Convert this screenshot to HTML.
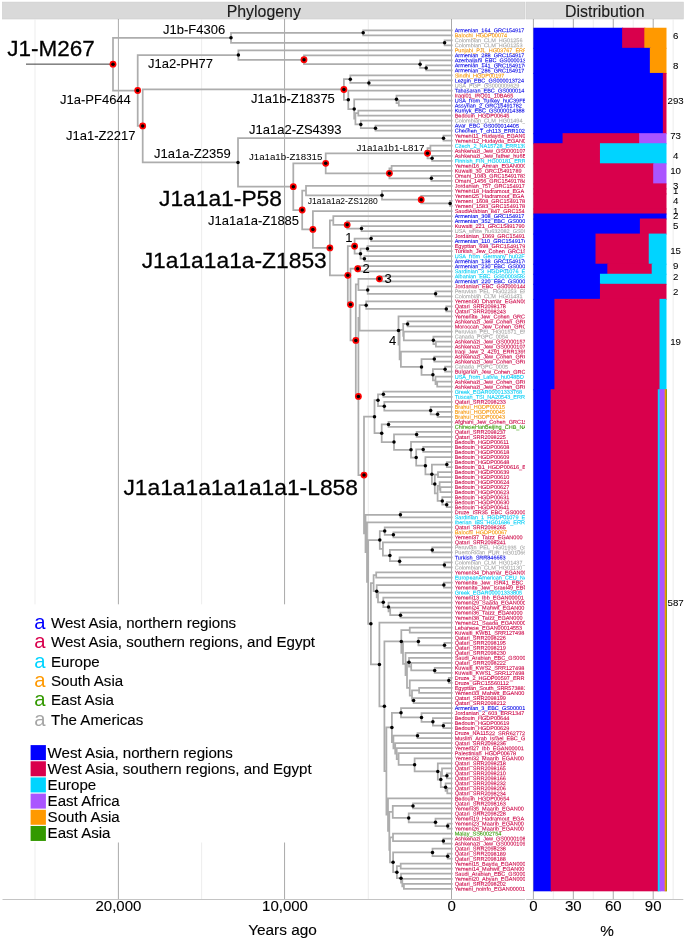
<!DOCTYPE html>
<html lang="en"><head><meta charset="utf-8"><title>J1-M267 phylogeny and distribution</title>
<style>html,body{margin:0;padding:0;background:#fff}body{width:685px;height:941px;overflow:hidden}svg{display:block;font-family:"Liberation Sans",Arial,Helvetica,sans-serif}.t text{font-size:5.53px;stroke-width:.08px}.B{fill:#0000e6;stroke:#0000e6}.R{fill:#cc0044;stroke:#cc0044}.C{fill:#00ccf5;stroke:#00ccf5}.O{fill:#f59300;stroke:#f59300}.G{fill:#339900;stroke:#339900}.A{fill:#a6a6a6;stroke:#a6a6a6}.n text{font-size:9.7px;text-anchor:middle;fill:#000;stroke:#000;stroke-width:.05px}text{stroke-width:.12px}.c text{fill:#000;stroke:#000}.ax text{font-size:15px;text-anchor:middle;fill:#000;stroke:#000}.lg text{font-size:15.1px;stroke:#000}</style></head><body>
<svg width="685" height="941" viewBox="0 0 685 941">
<defs><clipPath id="cp"><rect x="2.5" y="19" width="522.5" height="880"/></clipPath></defs>
<rect width="685" height="941" fill="#fff"/>
<rect x="2.5" y="2.1" width="522.5" height="16.9" fill="#d9d9d9" stroke="#ccc" stroke-width=".6"/>
<rect x="526.2" y="2.1" width="157.1" height="16.9" fill="#d9d9d9" stroke="#ccc" stroke-width=".6"/>
<g><text x="263.8" y="16.9" font-size="15.9" text-anchor="middle" fill="#1a1a1a" stroke="#1a1a1a">Phylogeny</text>
<text x="604.8" y="16.9" font-size="15.9" text-anchor="middle" fill="#1a1a1a" stroke="#1a1a1a">Distribution</text></g>
<line x1="35" y1="19" x2="35" y2="899" stroke="#ebebeb" stroke-width="0.9"/>
<line x1="201.6" y1="19" x2="201.6" y2="899" stroke="#ebebeb" stroke-width="0.9"/>
<line x1="368.3" y1="19" x2="368.3" y2="899" stroke="#ebebeb" stroke-width="0.9"/>
<line x1="118.4" y1="19" x2="118.4" y2="899" stroke="#858585" stroke-width="0.7"/>
<line x1="284.55" y1="19" x2="284.55" y2="899" stroke="#858585" stroke-width="0.7"/>
<line x1="451.5" y1="19" x2="451.5" y2="899" stroke="#858585" stroke-width="0.7"/>
<line x1="553.37" y1="19" x2="553.37" y2="899" stroke="#ebebeb" stroke-width="0.9"/>
<line x1="593.29" y1="19" x2="593.29" y2="899" stroke="#ebebeb" stroke-width="0.9"/>
<line x1="633.23" y1="19" x2="633.23" y2="899" stroke="#ebebeb" stroke-width="0.9"/>
<line x1="673.15" y1="19" x2="673.15" y2="899" stroke="#ebebeb" stroke-width="0.9"/>
<line x1="533.4" y1="19" x2="533.4" y2="899" stroke="#858585" stroke-width="0.7"/>
<line x1="573.33" y1="19" x2="573.33" y2="899" stroke="#858585" stroke-width="0.7"/>
<line x1="613.26" y1="19" x2="613.26" y2="899" stroke="#858585" stroke-width="0.7"/>
<line x1="653.19" y1="19" x2="653.19" y2="899" stroke="#858585" stroke-width="0.7"/>
<line x1="2.5" y1="899.5" x2="525" y2="899.5" stroke="#c4c4c4" stroke-width="1"/>
<line x1="526.2" y1="899.5" x2="683.3" y2="899.5" stroke="#c4c4c4" stroke-width="1"/>
<path d="M363.2 30.25H451.7M363.2 35.27H451.7M363.2 30.25V35.27M231 32.76H363.2M444.6 40.29H451.7M444.6 45.31H451.7M444.6 40.29V45.31M231 42.8H444.6M231 32.76V42.8M113 37.78H231M238.4 50.33H451.7M304 55.35H451.7M420.1 60.37H451.7M426.2 65.4H451.7M426.2 70.42H451.7M426.2 65.4V70.42M420.1 67.91H426.2M420.1 60.37V67.91M304 64.14H420.1M304 55.35V64.14M238.4 59.75H304M238.4 50.33V59.75M137.7 55.04H238.4M350.3 75.44H451.7M368.9 80.46H451.7M368.9 85.48H451.7M368.9 80.46V85.48M350.3 82.97H368.9M350.3 75.44V82.97M343.9 79.2H350.3M348.3 90.5H451.7M396.5 95.52H451.7M398.8 100.54H451.7M398.8 105.56H451.7M398.8 100.54V105.56M396.5 103.05H398.8M396.5 95.52V103.05M354.2 99.29H396.5M358.3 110.58H451.7M358.3 115.6H451.7M358.3 110.58V115.6M355.4 113.09H358.3M360.8 120.62H451.7M375.5 125.64H451.7M375.5 130.67H451.7M375.5 125.64V130.67M360.8 128.15H375.5M360.8 120.62V128.15M355.4 124.39H360.8M355.4 113.09V124.39M354.2 118.74H355.4M354.2 99.29V118.74M348.3 109.01H354.2M348.3 90.5V109.01M343.9 99.76H348.3M343.9 79.2V99.76M142.7 89.48H343.9M443.5 135.69H451.7M443.5 140.71H451.7M443.5 135.69V140.71M238 138.2H443.5M430.4 145.73H451.7M430.4 150.75H451.7M430.4 145.73V150.75M427.5 148.24H430.4M432.1 155.77H451.7M432.1 160.79H451.7M432.1 155.77V160.79M427.5 158.28H432.1M427.5 148.24V158.28M325.7 153.26H427.5M391.6 165.81H451.7M391.6 170.83H451.7M391.6 165.81V170.83M389.4 168.32H391.6M431.4 175.85H451.7M431.4 180.87H451.7M431.4 175.85V180.87M389.4 178.36H431.4M389.4 168.32V178.36M325.7 173.34H389.4M325.7 153.26V173.34M293.3 163.3H325.7M306 185.89H451.7M382 190.91H451.7M421.2 195.94H451.7M450.1 200.96H451.7M450.1 205.98H451.7M450.1 200.96V205.98M421.2 203.47H450.1M421.2 195.94V203.47M382 199.7H421.2M382 190.91V199.7M306 195.31H382M306 185.89V195.31M302.2 190.6H306M312.9 211H451.7M333.3 216.02H451.7M347.2 221.04H451.7M361.5 226.06H451.7M361.5 231.08H451.7M361.5 226.06V231.08M347.2 228.57H361.5M347.2 221.04V228.57M333.3 224.8H347.2M333.3 216.02V224.8M329.9 220.41H333.3M371.1 236.1H451.7M371.1 241.12H451.7M371.1 236.1V241.12M354.6 238.61H371.1M367.5 246.14H451.7M367.5 251.16H451.7M367.5 246.14V251.16M360.5 248.65H367.5M364.4 256.18H451.7M364.4 261.2H451.7M364.4 256.18V261.2M360.5 258.69H364.4M360.5 248.65V258.69M354.6 253.67H360.5M354.6 238.61V253.67M347.8 246.14H354.6M357.7 266.23H451.7M357.7 271.25H451.7M357.7 266.23V271.25M350.5 268.74H357.7M379.4 276.27H451.7M379.4 281.29H451.7M379.4 276.27V281.29M358.4 278.78H379.4M367.7 286.31H451.7M435.6 291.33H451.7M435.6 296.35H451.7M435.6 291.33V296.35M367.7 293.84H435.6M367.7 286.31V293.84M358.4 290.07H367.7M358.4 278.78V290.07M355.8 284.43H358.4M366.2 301.37H451.7M446.3 306.39H451.7M446.3 311.41H451.7M446.3 306.39V311.41M366.2 308.9H446.3M366.2 301.37V308.9M359.6 305.14H366.2M398.5 316.43H451.7M407.6 321.45H451.7M407.6 326.47H451.7M407.6 321.45V326.47M403.2 323.96H407.6M403.8 331.5H451.7M433.4 336.52H451.7M435.9 341.54H451.7M435.9 346.56H451.7M435.9 341.54V346.56M433.4 344.05H435.9M433.4 336.52V344.05M403.8 340.28H433.4M403.8 331.5V340.28M403.2 335.89H403.8M403.2 323.96V335.89M399.6 329.93H403.2M400.9 351.58H451.7M434.3 356.6H451.7M434.3 361.62H451.7M434.3 356.6V361.62M421.5 359.11H434.3M445.1 366.64H451.7M445.1 371.66H451.7M445.1 366.64V371.66M432.9 369.15H445.1M435.5 376.68H451.7M437.2 381.7H451.7M437.2 386.72H451.7M437.2 381.7V386.72M435.5 384.21H437.2M435.5 376.68V384.21M432.9 380.45H435.5M432.9 369.15V380.45M421.5 374.8H432.9M421.5 359.11V374.8M400.9 366.95H421.5M400.9 351.58V366.95M399.6 359.27H400.9M399.6 329.93V359.27M398.5 344.6H399.6M398.5 316.43V344.6M359.6 330.51H398.5M359.6 305.14V330.51M358.4 317.83H359.6M383.4 391.74H451.7M383.4 396.77H451.7M383.4 391.74V396.77M378 394.26H383.4M384.3 401.79H451.7M430.7 406.81H451.7M437.6 411.83H451.7M437.6 416.85H451.7M437.6 411.83V416.85M430.7 414.34H437.6M430.7 406.81V414.34M384.3 410.57H430.7M384.3 401.79V410.57M378 406.18H384.3M378 394.26V406.18M374.5 400.22H378M388.5 421.87H451.7M388.5 426.89H451.7M388.5 421.87V426.89M381.7 424.38H388.5M416.6 431.91H451.7M416.6 436.93H451.7M416.6 431.91V436.93M394 434.42H416.6M411 441.95H451.7M423.2 446.97H451.7M423.2 451.99H451.7M423.2 446.97V451.99M416.2 449.48H423.2M425.4 457.01H451.7M446.8 462.04H451.7M446.8 467.06H451.7M446.8 462.04V467.06M431.9 464.55H446.8M438 472.08H451.7M438 477.1H451.7M438 472.08V477.1M434.8 474.59H438M439.6 482.12H451.7M440.4 487.14H451.7M440.4 492.16H451.7M440.4 487.14V492.16M439.6 489.65H440.4M439.6 482.12V489.65M437.6 485.88H439.6M442.3 497.18H451.7M446.7 502.2H451.7M446.7 507.22H451.7M446.7 502.2V507.22M442.3 504.71H446.7M442.3 497.18V504.71M437.6 500.95H442.3M437.6 485.88V500.95M434.8 493.42H437.6M434.8 474.59V493.42M431.9 484H434.8M431.9 464.55V484M425.4 474.27H431.9M425.4 457.01V474.27M416.2 465.64H425.4M416.2 449.48V465.64M411 457.56H416.2M411 441.95V457.56M394 449.76H411M394 434.42V449.76M381.7 442.09H394M381.7 424.38V442.09M374.5 433.23H381.7M374.5 400.22V433.23M364 416.73H374.5M400.4 512.24H451.7M400.4 517.26H451.7M400.4 512.24V517.26M365.5 514.75H400.4M367 522.28H451.7M384.7 527.31H451.7M393.4 532.33H451.7M393.4 537.35H451.7M393.4 532.33V537.35M384.7 534.84H393.4M384.7 527.31V534.84M379.8 531.07H384.7M382.9 542.37H451.7M432.3 547.39H451.7M432.3 552.41H451.7M432.3 547.39V552.41M389.9 549.9H432.3M399.6 557.43H451.7M444.4 562.45H451.7M444.4 567.47H451.7M444.4 562.45V567.47M399.6 564.96H444.4M399.6 557.43V564.96M389.9 561.2H399.6M389.9 549.9V561.2M382.9 555.55H389.9M382.9 542.37V555.55M379.8 548.96H382.9M379.8 531.07V548.96M368.2 540.01H379.8M376.2 572.49H451.7M376.2 577.51H451.7M376.2 572.49V577.51M373.6 575H376.2M443.9 582.53H451.7M443.9 587.55H451.7M443.9 582.53V587.55M376.7 585.04H443.9M378 592.58H451.7M383.3 597.6H451.7M388.5 602.62H451.7M390.2 607.64H451.7M400.5 612.66H451.7M400.5 617.68H451.7M400.5 612.66V617.68M390.2 615.17H400.5M390.2 607.64V615.17M388.5 611.4H390.2M388.5 602.62V611.4M383.3 607.01H388.5M383.3 597.6V607.01M378 602.3H383.3M378 592.58V602.3M376.7 597.44H378M376.7 585.04V597.44M373.6 591.24H376.7M373.6 575V591.24M370.9 583.12H373.6M379.4 622.7H451.7M409.75 627.72H451.7M409.75 632.74H451.7M409.75 627.72V632.74M401.3 630.23H409.75M418.4 637.76H451.7M444.5 642.78H451.7M444.5 647.8H451.7M444.5 642.78V647.8M418.4 645.29H444.5M418.4 637.76V645.29M403 641.53H418.4M405.5 652.82H451.7M409 657.85H451.7M411.2 662.87H451.7M434.7 667.89H451.7M434.7 672.91H451.7M434.7 667.89V672.91M411.2 670.4H434.7M411.2 662.87V670.4M409 666.63H411.2M409 657.85V666.63M407 662.24H409M448.8 677.93H451.7M448.8 682.95H451.7M448.8 677.93V682.95M409.75 680.44H448.8M419.1 687.97H451.7M419.1 692.99H451.7M419.1 687.97V692.99M412 690.48H419.1M413.6 698.01H451.7M413.6 703.03H451.7M413.6 698.01V703.03M412 700.52H413.6M412 690.48V700.52M409.75 695.5H412M409.75 680.44V695.5M407 687.97H409.75M407 662.24V687.97M405.5 675.1H407M405.5 652.82V675.1M403 663.96H405.5M403 641.53V663.96M401.3 652.75H403M401.3 630.23V652.75M384.4 641.49H401.3M401 708.05H451.7M421.5 713.07H451.7M432.9 718.09H451.7M443.4 723.11H451.7M443.4 728.14H451.7M443.4 723.11V728.14M432.9 725.63H443.4M432.9 718.09V725.63M421.5 721.86H432.9M421.5 713.07V721.86M401 717.47H421.5M401 708.05V717.47M391.9 712.76H401M417.5 733.16H451.7M417.5 738.18H451.7M417.5 733.16V738.18M393.4 735.67H417.5M395.2 743.2H451.7M396.7 748.22H451.7M398.6 753.24H451.7M414.6 758.26H451.7M437.8 763.28H451.7M442 768.3H451.7M446.9 773.32H451.7M446.9 778.34H451.7M446.9 773.32V778.34M442 775.83H446.9M442 768.3V775.83M440.8 772.07H442M445.6 783.36H451.7M447.3 788.38H451.7M447.3 793.41H451.7M447.3 788.38V793.41M445.6 790.9H447.3M445.6 783.36V790.9M440.8 787.13H445.6M440.8 772.07V787.13M437.8 779.6H440.8M437.8 763.28V779.6M414.6 771.44H437.8M414.6 758.26V771.44M398.6 764.85H414.6M398.6 753.24V764.85M396.7 759.04H398.6M396.7 748.22V759.04M395.2 753.63H396.7M395.2 743.2V753.63M393.4 748.41H395.2M393.4 735.67V748.41M391.9 742.04H393.4M391.9 712.76V742.04M386.4 727.4H391.9M388 798.43H451.7M413 803.45H451.7M413 808.47H451.7M413 803.45V808.47M392.75 805.96H413M408.7 813.49H451.7M435.5 818.51H451.7M447.7 823.53H451.7M447.7 828.55H451.7M447.7 823.53V828.55M435.5 826.04H447.7M435.5 818.51V826.04M408.7 822.27H435.5M408.7 813.49V822.27M392.75 817.88H408.7M392.75 805.96V817.88M389.3 811.92H392.75M393 833.57H451.7M443.4 838.59H451.7M443.4 843.61H451.7M443.4 838.59V843.61M393 841.1H443.4M393 833.57V841.1M390 837.34H393M432.5 848.63H451.7M447.7 853.65H451.7M447.7 858.68H451.7M447.7 853.65V858.68M432.5 856.17H447.7M432.5 848.63V856.17M393.1 852.4H432.5M400.7 863.7H451.7M400.7 868.72H451.7M400.7 863.7V868.72M396.9 866.21H400.7M401 873.74H451.7M402.3 878.76H451.7M403.9 883.78H451.7M403.9 888.8H451.7M403.9 883.78V888.8M402.3 886.29H403.9M402.3 878.76V886.29M401 882.52H402.3M401 873.74V882.52M396.9 878.13H401M396.9 866.21V878.13M393.1 872.17H396.9M393.1 852.4V872.17M390 862.28H393.1M390 837.34V862.28M389.3 849.81H390M389.3 811.92V849.81M388 830.87H389.3M388 798.43V830.87M386.4 814.65H388M386.4 727.4V814.65M384.4 771.02H386.4M384.4 641.49V771.02M379.4 706.26H384.4M379.4 622.7V706.26M370.9 664.48H379.4M370.9 583.12V664.48M368.2 623.8H370.9M368.2 540.01V623.8M367 581.91H368.2M367 522.28V581.91M365.5 552.1H367M365.5 514.75V552.1M364 533.42H365.5M364 416.73V533.42M358.4 475.08H364M358.4 317.83V475.08M355.8 396.45H358.4M355.8 284.43V396.45M350.5 340.44H355.8M350.5 268.74V340.44M347.8 304.59H350.5M347.8 246.14V304.59M329.9 275.36H347.8M329.9 220.41V275.36M312.9 247.89H329.9M312.9 211V247.89M302.2 229.44H312.9M302.2 190.6V229.44M293.3 210.02H302.2M293.3 163.3V210.02M238 186.66H293.3M238 138.2V186.66M142.7 162.43H238M142.7 89.48V162.43M137.7 125.95H142.7M137.7 55.04V125.95M113 90.5H137.7M113 37.78V90.5" fill="none" stroke="#adadad" stroke-width="1.75" stroke-linecap="square"/>
<line x1="26" y1="64.14" x2="113" y2="64.14" stroke="#1a1a1a" stroke-width="0.85"/>
<g fill="#f00"><circle cx="304" cy="59.75" r="3.4"/><circle cx="343.9" cy="89.48" r="3.4"/><circle cx="427.5" cy="153.26" r="3.4"/><circle cx="389.4" cy="173.34" r="3.4"/><circle cx="325.7" cy="163.3" r="3.4"/><circle cx="421.2" cy="199.7" r="3.4"/><circle cx="347.2" cy="224.8" r="3.4"/><circle cx="354.6" cy="246.14" r="3.4"/><circle cx="357.7" cy="268.74" r="3.4"/><circle cx="379.4" cy="278.78" r="3.4"/><circle cx="364" cy="475.08" r="3.4"/><circle cx="358.4" cy="396.45" r="3.4"/><circle cx="355.8" cy="340.44" r="3.4"/><circle cx="350.5" cy="304.59" r="3.4"/><circle cx="347.8" cy="275.36" r="3.4"/><circle cx="329.9" cy="247.89" r="3.4"/><circle cx="312.9" cy="229.44" r="3.4"/><circle cx="302.2" cy="210.02" r="3.4"/><circle cx="293.3" cy="186.66" r="3.4"/><circle cx="142.7" cy="125.95" r="3.4"/><circle cx="137.7" cy="90.5" r="3.4"/><circle cx="113" cy="64.14" r="3.4"/></g>
<g fill="#000"><circle cx="363.2" cy="32.76" r="1.75"/><circle cx="444.6" cy="42.8" r="1.75"/><circle cx="231" cy="37.78" r="1.75"/><circle cx="426.2" cy="67.91" r="1.75"/><circle cx="420.1" cy="64.14" r="1.75"/><circle cx="304" cy="59.75" r="1.75"/><circle cx="238.4" cy="55.04" r="1.75"/><circle cx="368.9" cy="82.97" r="1.75"/><circle cx="350.3" cy="79.2" r="1.75"/><circle cx="396.5" cy="99.29" r="1.75"/><circle cx="375.5" cy="128.15" r="1.75"/><circle cx="360.8" cy="124.39" r="1.75"/><circle cx="354.2" cy="109.01" r="1.75"/><circle cx="348.3" cy="99.76" r="1.75"/><circle cx="343.9" cy="89.48" r="1.75"/><circle cx="443.5" cy="138.2" r="1.75"/><circle cx="432.1" cy="158.28" r="1.75"/><circle cx="427.5" cy="153.26" r="1.75"/><circle cx="431.4" cy="178.36" r="1.75"/><circle cx="389.4" cy="173.34" r="1.75"/><circle cx="325.7" cy="163.3" r="1.75"/><circle cx="450.1" cy="203.47" r="1.75"/><circle cx="421.2" cy="199.7" r="1.75"/><circle cx="382" cy="195.31" r="1.75"/><circle cx="361.5" cy="228.57" r="1.75"/><circle cx="347.2" cy="224.8" r="1.75"/><circle cx="371.1" cy="238.61" r="1.75"/><circle cx="367.5" cy="248.65" r="1.75"/><circle cx="364.4" cy="258.69" r="1.75"/><circle cx="360.5" cy="253.67" r="1.75"/><circle cx="354.6" cy="246.14" r="1.75"/><circle cx="357.7" cy="268.74" r="1.75"/><circle cx="379.4" cy="278.78" r="1.75"/><circle cx="435.6" cy="293.84" r="1.75"/><circle cx="367.7" cy="290.07" r="1.75"/><circle cx="446.3" cy="308.9" r="1.75"/><circle cx="366.2" cy="305.14" r="1.75"/><circle cx="407.6" cy="323.96" r="1.75"/><circle cx="433.4" cy="340.28" r="1.75"/><circle cx="434.3" cy="359.11" r="1.75"/><circle cx="445.1" cy="369.15" r="1.75"/><circle cx="432.9" cy="374.8" r="1.75"/><circle cx="421.5" cy="366.95" r="1.75"/><circle cx="398.5" cy="330.51" r="1.75"/><circle cx="383.4" cy="394.26" r="1.75"/><circle cx="437.6" cy="414.34" r="1.75"/><circle cx="430.7" cy="410.57" r="1.75"/><circle cx="384.3" cy="406.18" r="1.75"/><circle cx="378" cy="400.22" r="1.75"/><circle cx="388.5" cy="424.38" r="1.75"/><circle cx="416.6" cy="434.42" r="1.75"/><circle cx="423.2" cy="449.48" r="1.75"/><circle cx="446.8" cy="464.55" r="1.75"/><circle cx="446.7" cy="504.71" r="1.75"/><circle cx="442.3" cy="500.95" r="1.75"/><circle cx="434.8" cy="484" r="1.75"/><circle cx="431.9" cy="474.27" r="1.75"/><circle cx="425.4" cy="465.64" r="1.75"/><circle cx="416.2" cy="457.56" r="1.75"/><circle cx="411" cy="449.76" r="1.75"/><circle cx="394" cy="442.09" r="1.75"/><circle cx="381.7" cy="433.23" r="1.75"/><circle cx="374.5" cy="416.73" r="1.75"/><circle cx="400.4" cy="514.75" r="1.75"/><circle cx="393.4" cy="534.84" r="1.75"/><circle cx="384.7" cy="531.07" r="1.75"/><circle cx="432.3" cy="549.9" r="1.75"/><circle cx="444.4" cy="564.96" r="1.75"/><circle cx="399.6" cy="561.2" r="1.75"/><circle cx="389.9" cy="555.55" r="1.75"/><circle cx="379.8" cy="540.01" r="1.75"/><circle cx="443.9" cy="585.04" r="1.75"/><circle cx="400.5" cy="615.17" r="1.75"/><circle cx="388.5" cy="607.01" r="1.75"/><circle cx="383.3" cy="602.3" r="1.75"/><circle cx="376.7" cy="591.24" r="1.75"/><circle cx="444.5" cy="645.29" r="1.75"/><circle cx="418.4" cy="641.53" r="1.75"/><circle cx="434.7" cy="670.4" r="1.75"/><circle cx="409" cy="662.24" r="1.75"/><circle cx="448.8" cy="680.44" r="1.75"/><circle cx="413.6" cy="700.52" r="1.75"/><circle cx="401.3" cy="641.49" r="1.75"/><circle cx="443.4" cy="725.63" r="1.75"/><circle cx="432.9" cy="721.86" r="1.75"/><circle cx="421.5" cy="717.47" r="1.75"/><circle cx="401" cy="712.76" r="1.75"/><circle cx="417.5" cy="735.67" r="1.75"/><circle cx="446.9" cy="775.83" r="1.75"/><circle cx="445.6" cy="787.13" r="1.75"/><circle cx="440.8" cy="779.6" r="1.75"/><circle cx="437.8" cy="771.44" r="1.75"/><circle cx="414.6" cy="764.85" r="1.75"/><circle cx="391.9" cy="727.4" r="1.75"/><circle cx="413" cy="805.96" r="1.75"/><circle cx="447.7" cy="826.04" r="1.75"/><circle cx="435.5" cy="822.27" r="1.75"/><circle cx="408.7" cy="817.88" r="1.75"/><circle cx="443.4" cy="841.1" r="1.75"/><circle cx="447.7" cy="856.17" r="1.75"/><circle cx="432.5" cy="852.4" r="1.75"/><circle cx="401" cy="878.13" r="1.75"/><circle cx="396.9" cy="872.17" r="1.75"/><circle cx="393.1" cy="862.28" r="1.75"/><circle cx="384.4" cy="706.26" r="1.75"/><circle cx="379.4" cy="664.48" r="1.75"/><circle cx="370.9" cy="623.8" r="1.75"/><circle cx="364" cy="475.08" r="1.75"/><circle cx="358.4" cy="396.45" r="1.75"/><circle cx="355.8" cy="340.44" r="1.75"/><circle cx="350.5" cy="304.59" r="1.75"/><circle cx="347.8" cy="275.36" r="1.75"/><circle cx="329.9" cy="247.89" r="1.75"/><circle cx="312.9" cy="229.44" r="1.75"/><circle cx="302.2" cy="210.02" r="1.75"/><circle cx="293.3" cy="186.66" r="1.75"/><circle cx="238" cy="162.43" r="1.75"/><circle cx="142.7" cy="125.95" r="1.75"/><circle cx="137.7" cy="90.5" r="1.75"/><circle cx="113" cy="64.14" r="1.75"/></g>
<g class="t" clip-path="url(#cp)"><g transform="matrix(1 0.0009 0 1 0 0)">
<text x="454.7" y="31.79" class="B">Armenian_164_GRC154917</text>
<text x="454.7" y="36.81" class="O">Balochi_HGDP00074</text>
<text x="454.7" y="41.83" class="A">Colombian_CLM_HG01256</text>
<text x="454.7" y="46.85" class="A">Colombian_CLM_HG01253</text>
<text x="454.7" y="51.87" class="O">Punjabi_PJL_HG03767_ERR</text>
<text x="454.7" y="56.89" class="B">Armenian_288_GRC154917</text>
<text x="454.7" y="61.92" class="B">Azerbaijani_EBC_GS000013</text>
<text x="454.7" y="66.94" class="B">Armenian_141_GRC1549176</text>
<text x="454.7" y="71.96" class="B">Armenian_286_GRC154917</text>
<text x="454.7" y="76.98" class="O">Sindhi_HGDP00197</text>
<text x="454.7" y="82" class="B">Lezgin_EBC_GS000013724</text>
<text x="454.7" y="87.02" class="A">USA_PGP_GS000009629</text>
<text x="454.7" y="92.04" class="B">Tabasaran_EBC_GS000014</text>
<text x="454.7" y="97.06" class="R">Iraqi01_IRQ01_10BA65</text>
<text x="454.7" y="102.08" class="B">USA_from_Turkey_huC39FE</text>
<text x="454.7" y="107.1" class="B">Assyrian_2_GRC15491782</text>
<text x="454.7" y="112.12" class="B">Kumyk_EBC_GS000014388</text>
<text x="454.7" y="117.14" class="R">Bedouin_HGDP00645</text>
<text x="454.7" y="122.16" class="A">Colombian_CLM_HG01494_</text>
<text x="454.7" y="127.19" class="B">Avar_EBC_GS000014405</text>
<text x="454.7" y="132.21" class="B">Chechen_T_ch113_ERR102</text>
<text x="454.7" y="137.23" class="R">Yemeni11_Hudayda_EGAN0</text>
<text x="454.7" y="142.25" class="R">Yemeni12_Hudayda_EGAN0</text>
<text x="454.7" y="147.27" class="C">Czech_2_NA15728_ERR139</text>
<text x="454.7" y="152.29" class="R">Ashkenazi_Jew_GS0000107</text>
<text x="454.7" y="157.31" class="R">Ashkenazi_Jew_father_hu6E</text>
<text x="454.7" y="162.33" class="C">Finnish_FIN_HG00181_ERR</text>
<text x="454.7" y="167.35" class="R">Yemeni16_Amran_EGAN000</text>
<text x="454.7" y="172.37" class="R">Kuwaiti_30_GRC15491789</text>
<text x="454.7" y="177.39" class="R">Omani_1083_GRC15491783</text>
<text x="454.7" y="182.41" class="R">Omani_1456_GRC15491784</text>
<text x="454.7" y="187.43" class="R">Jordanian_757_GRC154917</text>
<text x="454.7" y="192.46" class="R">Yemeni18_Hadramout_EGA</text>
<text x="454.7" y="197.48" class="R">Yemeni25_Hadramout_EGA</text>
<text x="454.7" y="202.5" class="R">Yemeni_1608_GRC1549178</text>
<text x="454.7" y="207.52" class="R">Yemeni_1583_GRC1549178</text>
<text x="454.7" y="212.54" class="R">SaudiArabian_847_GRC154</text>
<text x="454.7" y="217.56" class="B">Armenian_308_GRC154917</text>
<text x="454.7" y="222.58" class="B">Armenian_352_EBC_GS000</text>
<text x="454.7" y="227.6" class="R">Kuwaiti_221_GRC15491790</text>
<text x="454.7" y="232.62" class="A">USA_white_hu632082_GS00</text>
<text x="454.7" y="237.64" class="R">Jordanian_1069_GRC15491</text>
<text x="454.7" y="242.66" class="B">Armenian_110_GRC1549176</text>
<text x="454.7" y="247.68" class="R">Egyptian_698_GRC1549179</text>
<text x="454.7" y="252.7" class="R">Turkish_Jew_Cohen_GRC15</text>
<text x="454.7" y="257.72" class="C">USA_from_Germany_hu02F</text>
<text x="454.7" y="262.75" class="B">Armenian_138_GRC1549176</text>
<text x="454.7" y="267.77" class="B">Armenian_230_EBC_GS000</text>
<text x="454.7" y="272.79" class="C">Sardinian_3_HGDP01076_E</text>
<text x="454.7" y="277.81" class="C">Albanian_EBC_GS00003583</text>
<text x="454.7" y="282.83" class="B">Armenian_220_EBC_GS000</text>
<text x="454.7" y="287.85" class="R">Jordanian_EBC_GS0000144</text>
<text x="454.7" y="292.87" class="A">Peruvian_PEL_HG02253_ER</text>
<text x="454.7" y="297.89" class="A">Colombian_CLM_HG01431</text>
<text x="454.7" y="302.91" class="R">Yemeni30_Dhamar_EGAN00</text>
<text x="454.7" y="307.93" class="R">Qatari_SRR2098178</text>
<text x="454.7" y="312.95" class="R">Qatari_SRR2098243</text>
<text x="454.7" y="317.97" class="R">Yemenite_Jew_Cohen_GRC</text>
<text x="454.7" y="322.99" class="R">Ashkenazi_Jew_Cohen_GRC</text>
<text x="454.7" y="328.02" class="R">Moroccan_Jew_Cohen_GRC</text>
<text x="454.7" y="333.04" class="A">Peruvian_PEL_HG01571_ER</text>
<text x="454.7" y="338.06" class="A">Canada_PGPC_0054</text>
<text x="454.7" y="343.08" class="R">Ashkenazi_Jew_GS0000157</text>
<text x="454.7" y="348.1" class="R">Ashkenazi_Jew_GS0000107</text>
<text x="454.7" y="353.12" class="R">Iraqi_Jew_2_4291_ERR1395</text>
<text x="454.7" y="358.14" class="R">Ashkenazi_Jew_Cohen_GRC</text>
<text x="454.7" y="363.16" class="R">Ashkenazi_Jew_Cohen_GRC</text>
<text x="454.7" y="368.18" class="A">Canada_PGPC_0005</text>
<text x="454.7" y="373.2" class="R">Bulgarian_Jew_Cohen_GRC</text>
<text x="454.7" y="378.22" class="C">USA_from_Latvia_hu048BD</text>
<text x="454.7" y="383.24" class="R">Ashkenazi_Jew_Cohen_GRC</text>
<text x="454.7" y="388.26" class="R">Ashkenazi_Jew_Cohen_GRC</text>
<text x="454.7" y="393.29" class="C">Greek_EGAR00001333768</text>
<text x="454.7" y="398.31" class="C">Tuscan_TSI_NA20543_ERR</text>
<text x="454.7" y="403.33" class="R">Qatari_SRR2098233</text>
<text x="454.7" y="408.35" class="O">Brahui_HGDP00015</text>
<text x="454.7" y="413.37" class="O">Brahui_HGDP00045</text>
<text x="454.7" y="418.39" class="O">Brahui_HGDP00043</text>
<text x="454.7" y="423.41" class="R">Afghani_Jew_Cohen_GRC15</text>
<text x="454.7" y="428.43" class="G">ChineseHanBeijing_CHB_NA</text>
<text x="454.7" y="433.45" class="R">Qatari_SRR2098237</text>
<text x="454.7" y="438.47" class="R">Qatari_SRR2098225</text>
<text x="454.7" y="443.49" class="R">Bedouin_HGDP00611</text>
<text x="454.7" y="448.51" class="R">Bedouin_HGDP00608</text>
<text x="454.7" y="453.53" class="R">Bedouin_HGDP00618</text>
<text x="454.7" y="458.56" class="R">Bedouin_HGDP00609</text>
<text x="454.7" y="463.58" class="R">Bedouin_HGDP00648</text>
<text x="454.7" y="468.6" class="R">Bedouin_B1_HGDP00616_E</text>
<text x="454.7" y="473.62" class="R">Bedouin_HGDP00639</text>
<text x="454.7" y="478.64" class="R">Bedouin_HGDP00610</text>
<text x="454.7" y="483.66" class="R">Bedouin_HGDP00624</text>
<text x="454.7" y="488.68" class="R">Bedouin_HGDP00627</text>
<text x="454.7" y="493.7" class="R">Bedouin_HGDP00623</text>
<text x="454.7" y="498.72" class="R">Bedouin_HGDP00631</text>
<text x="454.7" y="503.74" class="R">Bedouin_HGDP00630</text>
<text x="454.7" y="508.76" class="R">Bedouin_HGDP00641</text>
<text x="454.7" y="513.78" class="R">Druze_ISR35_EBC_GS0000</text>
<text x="454.7" y="518.8" class="C">Sardinian_1_HGDP01079_E</text>
<text x="454.7" y="523.83" class="C">Iberian_IBS_HG01686_ERR</text>
<text x="454.7" y="528.85" class="R">Qatari_SRR2098265</text>
<text x="454.7" y="533.87" class="O">Balochi_HGDP00067</text>
<text x="454.7" y="538.89" class="R">Yemeni37_Taizz_EGAN000</text>
<text x="454.7" y="543.91" class="R">Qatari_SRR2098241</text>
<text x="454.7" y="548.93" class="A">Peruvian_PEL_HG01935_GS</text>
<text x="454.7" y="553.95" class="A">PuertoRican_PUR_HG01066</text>
<text x="454.7" y="558.97" class="B">Turkish_SRR846663</text>
<text x="454.7" y="563.99" class="A">Colombian_CLM_HG01437_</text>
<text x="454.7" y="569.01" class="A">Colombian_CLM_HG01130</text>
<text x="454.7" y="574.03" class="R">Yemeni34_Dhamar_EGAN00</text>
<text x="454.7" y="579.05" class="C">EuropeanAmerican_CEU_NA</text>
<text x="454.7" y="584.07" class="R">Yemenite_Jew_ISR41_EBC_</text>
<text x="454.7" y="589.1" class="R">Yemenite_Jew_Israel49_EBC</text>
<text x="454.7" y="594.12" class="C">Greek_EGAR00001333805</text>
<text x="454.7" y="599.14" class="R">Yemeni13_Ibb_EGAN00001</text>
<text x="454.7" y="604.16" class="R">Yemeni29_Saada_EGAN000</text>
<text x="454.7" y="609.18" class="R">Yemeni24_Mahwit_EGAN00</text>
<text x="454.7" y="614.2" class="R">Yemeni36_Taizz_EGAN000</text>
<text x="454.7" y="619.22" class="R">Yemeni38_Taizz_EGAN000</text>
<text x="454.7" y="624.24" class="R">Yemeni21_Saada_EGAN000</text>
<text x="454.7" y="629.26" class="R">Lebanese_EGAN00014553</text>
<text x="454.7" y="634.28" class="R">Kuwaiti_KWB1_SRR127498</text>
<text x="454.7" y="639.3" class="R">Qatari_SRR2098226</text>
<text x="454.7" y="644.32" class="R">Qatari_SRR2098195</text>
<text x="454.7" y="649.34" class="R">Qatari_SRR2098219</text>
<text x="454.7" y="654.37" class="R">Qatari_SRR2098230</text>
<text x="454.7" y="659.39" class="R">Saudi_Arabian_EBC_GS000</text>
<text x="454.7" y="664.41" class="R">Qatari_SRR2098222</text>
<text x="454.7" y="669.43" class="R">Kuwaiti_KWS2_SRR127498</text>
<text x="454.7" y="674.45" class="R">Kuwaiti_KWS1_SRR127498</text>
<text x="454.7" y="679.47" class="R">Druze_2_HGDP00597_ERR</text>
<text x="454.7" y="684.49" class="R">Druze_GRC15560112</text>
<text x="454.7" y="689.51" class="R">Egyptian_South_SRR573881</text>
<text x="454.7" y="694.53" class="R">Yemeni33_Mahwit_EGAN00</text>
<text x="454.7" y="699.55" class="R">Qatari_SRR2098199</text>
<text x="454.7" y="704.57" class="R">Qatari_SRR2098212</text>
<text x="454.7" y="709.59" class="B">Armenian_3_EBC_GS00001</text>
<text x="454.7" y="714.61" class="R">Jordanian_2_603_ERR1347</text>
<text x="454.7" y="719.63" class="R">Bedouin_HGDP00644</text>
<text x="454.7" y="724.66" class="R">Bedouin_HGDP00619</text>
<text x="454.7" y="729.68" class="R">Bedouin_HGDP00629</text>
<text x="454.7" y="734.7" class="R">Druze_NA11522_SRR62772</text>
<text x="454.7" y="739.72" class="R">Muslim_Arab_Israel_EBC_G</text>
<text x="454.7" y="744.74" class="R">Qatari_SRR2098236</text>
<text x="454.7" y="749.76" class="R">Yemeni27_Ibb_EGAN00001</text>
<text x="454.7" y="754.78" class="R">Palestinian_HGDP00678</text>
<text x="454.7" y="759.8" class="R">Yemeni32_Maarib_EGAN00</text>
<text x="454.7" y="764.82" class="R">Qatari_SRR2098218</text>
<text x="454.7" y="769.84" class="R">Qatari_SRR2098165</text>
<text x="454.7" y="774.86" class="R">Qatari_SRR2098210</text>
<text x="454.7" y="779.88" class="R">Qatari_SRR2098166</text>
<text x="454.7" y="784.9" class="R">Qatari_SRR2098232</text>
<text x="454.7" y="789.93" class="R">Qatari_SRR2098206</text>
<text x="454.7" y="794.95" class="R">Qatari_SRR2098234</text>
<text x="454.7" y="799.97" class="R">Bedouin_HGDP00654</text>
<text x="454.7" y="804.99" class="R">Qatari_SRR2098163</text>
<text x="454.7" y="810.01" class="R">Yemeni35_Maarib_EGAN00</text>
<text x="454.7" y="815.03" class="R">Qatari_SRR2098228</text>
<text x="454.7" y="820.05" class="R">Yemeni19_Hadramout_EGA</text>
<text x="454.7" y="825.07" class="R">Yemeni23_Maarib_EGAN00</text>
<text x="454.7" y="830.09" class="R">Yemeni26_Maarib_EGAN00</text>
<text x="454.7" y="835.11" class="G">Malay_SS6002754</text>
<text x="454.7" y="840.13" class="R">Ashkenazi_Jew_GS0000108</text>
<text x="454.7" y="845.15" class="R">Ashkenazi_Jew_GS0000109</text>
<text x="454.7" y="850.17" class="R">Qatari_SRR2098238</text>
<text x="454.7" y="855.2" class="R">Qatari_SRR2098189</text>
<text x="454.7" y="860.22" class="R">Qatari_SRR2098188</text>
<text x="454.7" y="865.24" class="R">Yemeni15_Bayda_EGAN000</text>
<text x="454.7" y="870.26" class="R">Yemeni14_Mahwit_EGAN00</text>
<text x="454.7" y="875.28" class="R">Saudi_Arabian_EBC_GS000</text>
<text x="454.7" y="880.3" class="R">Yemeni20_Abyan_EGAN000</text>
<text x="454.7" y="885.32" class="R">Qatari_SRR2098202</text>
<text x="454.7" y="890.34" class="R">Yemeni_noinfo_EGAN00001</text>
</g></g>
<rect x="533.4" y="27.74" width="89.73" height="21.08" fill="#0000ff"/>
<rect x="622.13" y="27.74" width="23.18" height="21.08" fill="#d9004c"/>
<rect x="644.32" y="27.74" width="22.18" height="21.08" fill="#ff9900"/>
<rect x="533.4" y="47.82" width="117.46" height="26.1" fill="#0000ff"/>
<rect x="649.86" y="47.82" width="16.64" height="26.1" fill="#ff9900"/>
<rect x="533.4" y="72.93" width="130.47" height="61.25" fill="#0000ff"/>
<rect x="662.87" y="72.93" width="3.63" height="61.25" fill="#d9004c"/>
<rect x="533.4" y="133.18" width="30.17" height="11.04" fill="#0000ff"/>
<rect x="562.57" y="133.18" width="77.58" height="11.04" fill="#d9004c"/>
<rect x="639.15" y="133.18" width="27.35" height="11.04" fill="#aa55ff"/>
<rect x="533.4" y="143.22" width="67.55" height="21.08" fill="#d9004c"/>
<rect x="599.95" y="143.22" width="66.55" height="21.08" fill="#00d4ff"/>
<rect x="533.4" y="163.3" width="120.79" height="21.08" fill="#d9004c"/>
<rect x="653.19" y="163.3" width="13.31" height="21.08" fill="#aa55ff"/>
<rect x="533.4" y="183.38" width="133.1" height="6.02" fill="#d9004c"/>
<rect x="533.4" y="188.4" width="133.1" height="6.02" fill="#d9004c"/>
<rect x="533.4" y="193.42" width="133.1" height="16.06" fill="#d9004c"/>
<rect x="533.4" y="208.49" width="133.1" height="6.02" fill="#d9004c"/>
<rect x="533.4" y="213.51" width="133.1" height="6.02" fill="#0000ff"/>
<rect x="533.4" y="218.53" width="107.48" height="16.06" fill="#0000ff"/>
<rect x="639.88" y="218.53" width="26.62" height="16.06" fill="#d9004c"/>
<rect x="533.4" y="233.59" width="63.11" height="31.12" fill="#0000ff"/>
<rect x="595.51" y="233.59" width="54.24" height="31.12" fill="#d9004c"/>
<rect x="648.75" y="233.59" width="17.75" height="31.12" fill="#00d4ff"/>
<rect x="533.4" y="263.72" width="74.94" height="11.04" fill="#0000ff"/>
<rect x="607.34" y="263.72" width="45.37" height="11.04" fill="#d9004c"/>
<rect x="651.71" y="263.72" width="14.79" height="11.04" fill="#00d4ff"/>
<rect x="533.4" y="273.76" width="67.55" height="11.04" fill="#0000ff"/>
<rect x="599.95" y="273.76" width="66.55" height="11.04" fill="#00d4ff"/>
<rect x="533.4" y="283.8" width="67.55" height="16.06" fill="#0000ff"/>
<rect x="599.95" y="283.8" width="66.55" height="16.06" fill="#d9004c"/>
<rect x="533.4" y="298.86" width="22.02" height="91.37" fill="#0000ff"/>
<rect x="554.42" y="298.86" width="106.08" height="91.37" fill="#d9004c"/>
<rect x="659.49" y="298.86" width="7.01" height="91.37" fill="#00d4ff"/>
<rect x="533.4" y="389.23" width="18.3" height="502.08" fill="#0000ff"/>
<rect x="550.7" y="389.23" width="108.08" height="502.08" fill="#d9004c"/>
<rect x="657.78" y="389.23" width="2.8" height="502.08" fill="#00d4ff"/>
<rect x="659.58" y="389.23" width="6.12" height="502.08" fill="#aa55ff"/>
<rect x="664.7" y="389.23" width="2.2" height="502.08" fill="#ff9900"/>
<rect x="665.9" y="389.23" width="0.6" height="502.08" fill="#339900"/>
<g class="n">
<text x="675.6" y="38.7">6</text>
<text x="675.6" y="68.8">8</text>
<text x="675.6" y="103.6">293</text>
<text x="675.6" y="139.1">73</text>
<text x="675.6" y="158.6">4</text>
<text x="675.6" y="174.1">10</text>
<text x="675.6" y="189.1">3</text>
<text x="675.6" y="193.8">1</text>
<text x="675.6" y="203.8">4</text>
<text x="675.6" y="213.5">1</text>
<text x="675.6" y="219.4">2</text>
<text x="675.6" y="229.1">5</text>
<text x="675.6" y="253.8">15</text>
<text x="675.6" y="269">9</text>
<text x="675.6" y="279.6">2</text>
<text x="675.6" y="294.8">2</text>
<text x="675.6" y="344.8">19</text>
<text x="675.6" y="605.6">587</text>
</g>
<g class="c">
<text x="7.2" y="55.95" style="font-size:22.5px;stroke-width:0.27px">J1-M267</text>
<text x="163" y="34.15" style="font-size:13px;stroke-width:0.08px">J1b-F4306</text>
<text x="148" y="67.95" style="font-size:13px;stroke-width:0.08px">J1a2-PH77</text>
<text x="60" y="104.15" style="font-size:13px;stroke-width:0.08px">J1a-PF4644</text>
<text x="66" y="139.65" style="font-size:13px;stroke-width:0.08px">J1a1-Z2217</text>
<text x="251" y="103.15" style="font-size:13px;stroke-width:0.08px">J1a1b-Z18375</text>
<text x="249" y="134.15" style="font-size:13px;stroke-width:0.08px">J1a1a2-ZS4393</text>
<text x="154" y="157.65" style="font-size:13px;stroke-width:0.08px">J1a1a-Z2359</text>
<text x="248.9" y="160.48" style="font-size:9.72px;stroke-width:0.01px">J1a1a1b-Z18315</text>
<text x="356.6" y="151.49" style="font-size:9.76px;stroke-width:0.02px">J1a1a1b1-L817</text>
<text x="159" y="206.01" style="font-size:22.8px;stroke-width:0.28px">J1a1a1-P58</text>
<text x="307.7" y="204.05" style="font-size:8.52px;stroke-width:0px">J1a1a1a2-ZS1280</text>
<text x="208" y="224.65" style="font-size:13px;stroke-width:0.08px">J1a1a1a-Z1885</text>
<text x="141.7" y="268.01" style="font-size:22.8px;stroke-width:0.28px">J1a1a1a1a-Z1853</text>
<text x="123.4" y="495.46" style="font-size:22.8px;stroke-width:0.28px">J1a1a1a1a1a1a1-L858</text>
<text x="345.2" y="242.15" style="font-size:13px;stroke-width:0.08px">1</text>
<text x="362.5" y="272.95" style="font-size:13px;stroke-width:0.08px">2</text>
<text x="384.5" y="282.95" style="font-size:13px;stroke-width:0.08px">3</text>
<text x="389" y="344.65" style="font-size:13px;stroke-width:0.08px">4</text>
</g>
<rect x="26" y="604.3" width="294" height="238.2" fill="#fff"/>
<g class="lg">
<text x="34.3" y="629" style="font-size:20.3px;stroke:none" fill="#0000ff">a</text><text x="51" y="627.9">West Asia, northern regions</text>
<text x="34.3" y="648.36" style="font-size:20.3px;stroke:none" fill="#d9004c">a</text><text x="51" y="647.26">West Asia, southern regions, and Egypt</text>
<text x="34.3" y="667.72" style="font-size:20.3px;stroke:none" fill="#00d4ff">a</text><text x="51" y="666.62">Europe</text>
<text x="34.3" y="687.08" style="font-size:20.3px;stroke:none" fill="#ff9900">a</text><text x="51" y="685.98">South Asia</text>
<text x="34.3" y="706.44" style="font-size:20.3px;stroke:none" fill="#339900">a</text><text x="51" y="705.34">East Asia</text>
<text x="34.3" y="725.8" style="font-size:20.3px;stroke:none" fill="#a6a6a6">a</text><text x="51" y="724.7">The Americas</text>
<rect x="30.6" y="745.1" width="15.3" height="15" fill="#0000ff"/><text x="47.6" y="757.6">West Asia, northern regions</text>
<rect x="30.6" y="761.27" width="15.3" height="15" fill="#d9004c"/><text x="47.6" y="773.77">West Asia, southern regions, and Egypt</text>
<rect x="30.6" y="777.44" width="15.3" height="15" fill="#00d4ff"/><text x="47.6" y="789.94">Europe</text>
<rect x="30.6" y="793.61" width="15.3" height="15" fill="#aa55ff"/><text x="47.6" y="806.11">East Africa</text>
<rect x="30.6" y="809.78" width="15.3" height="15" fill="#ff9900"/><text x="47.6" y="822.28">South Asia</text>
<rect x="30.6" y="825.95" width="15.3" height="15" fill="#339900"/><text x="47.6" y="838.45">East Asia</text>
</g>
<g class="ax">
<text x="118.4" y="910.9">20,000</text>
<text x="285" y="910.9">10,000</text>
<text x="451.7" y="910.9">0</text>
<text x="533.4" y="910.9">0</text>
<text x="573.33" y="910.9">30</text>
<text x="613.26" y="910.9">60</text>
<text x="653.19" y="910.9">90</text>
<text x="282.5" y="935" style="font-size:15.4px">Years ago</text>
<text x="607" y="936.3" style="font-size:15.3px">%</text>
</g>
</svg></body></html>
